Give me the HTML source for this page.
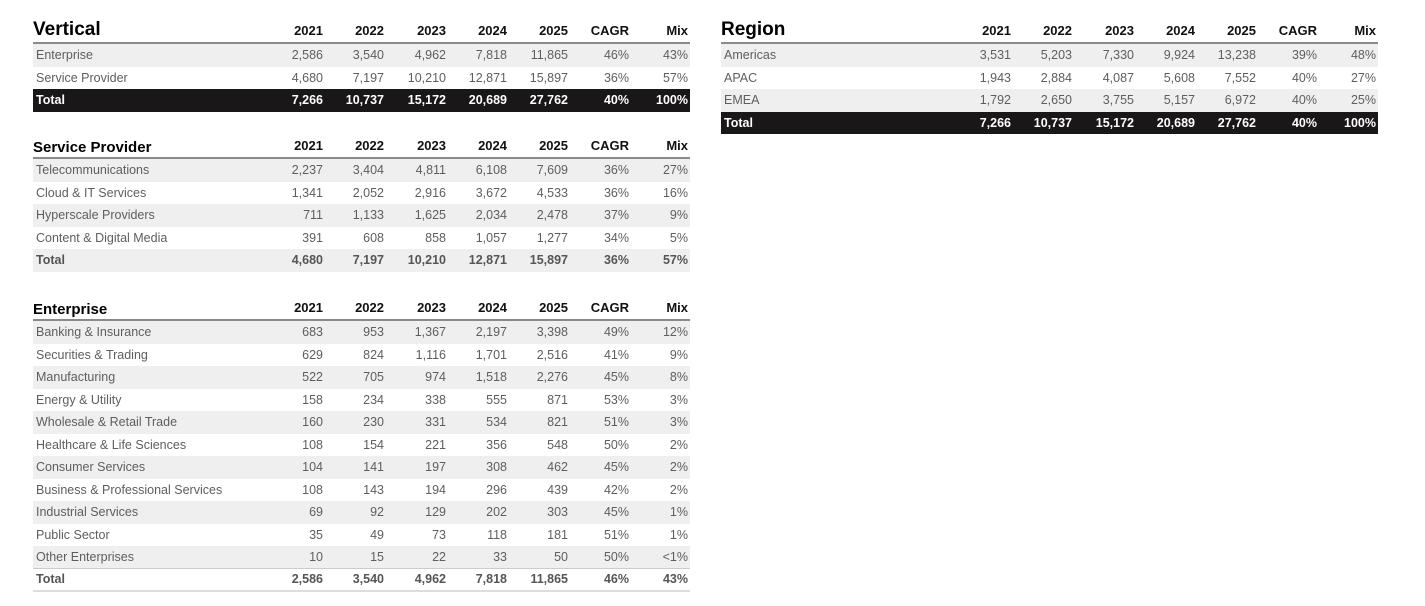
<!DOCTYPE html>
<html><head><style>
body{margin:0;background:#fff;width:1425px;height:606px;position:relative;font-family:"Liberation Sans",sans-serif;overflow:hidden}
.t{position:absolute;width:657px}
.h{height:24px;border-bottom:2px solid #8a8a8a;position:relative}
.h .ti{position:absolute;left:0;bottom:1px;font-weight:900;font-size:19px;color:#000}
.h.s .ti{font-size:15px}
.r{height:22.5px;position:relative;font-size:12.5px;color:#5e5e5e;box-sizing:border-box}
.r.g{background:#efefef}
.r.k{background:#1a1718;color:#fff;font-weight:bold}
.r.b{font-weight:bold;color:#555}
.r.bl{border-top:1px solid #ccc;border-bottom:2px solid #ddd;height:24px;margin-top:-1px}
.c{position:absolute;top:50%;transform:translateY(-50%);text-align:right;white-space:nowrap}
.l{left:3px;text-align:left}
.h .c{font-weight:bold;color:#111;font-size:13px;top:auto;bottom:4px;transform:none}
</style></head><body>
<div id="root"></div>
<script>
const R=[290,351,413,474,535,596,655];
function tbl(x,y,title,small,hdr,rows){
 let s=`<div class="t" style="left:${x}px;top:${y}px"><div class="h${small?' s':''}"><span class="ti">${title}</span>`;
 hdr.forEach((h,i)=>s+=`<span class="c" style="right:${657-R[i]}px">${h}</span>`);
 s+='</div>';
 rows.forEach(r=>{s+=`<div class="r ${r[0]}"><span class="c l">${r[1]}</span>`;
  r.slice(2).forEach((v,i)=>s+=`<span class="c" style="right:${657-R[i]}px">${v}</span>`);s+='</div>';});
 return s+'</div>';
}
const H=['2021','2022','2023','2024','2025','CAGR','Mix'];
let o='';
o+=tbl(33,18,'Vertical',0,H,[
['g','Enterprise','2,586','3,540','4,962','7,818','11,865','46%','43%'],
['','Service Provider','4,680','7,197','10,210','12,871','15,897','36%','57%'],
['k','Total','7,266','10,737','15,172','20,689','27,762','40%','100%']]);
o+=tbl(721,18,'Region',0,H,[
['g','Americas','3,531','5,203','7,330','9,924','13,238','39%','48%'],
['','APAC','1,943','2,884','4,087','5,608','7,552','40%','27%'],
['g','EMEA','1,792','2,650','3,755','5,157','6,972','40%','25%'],
['k','Total','7,266','10,737','15,172','20,689','27,762','40%','100%']]);
o+=tbl(33,133,'Service Provider',1,H,[
['g','Telecommunications','2,237','3,404','4,811','6,108','7,609','36%','27%'],
['','Cloud &amp; IT Services','1,341','2,052','2,916','3,672','4,533','36%','16%'],
['g','Hyperscale Providers','711','1,133','1,625','2,034','2,478','37%','9%'],
['','Content &amp; Digital Media','391','608','858','1,057','1,277','34%','5%'],
['g b','Total','4,680','7,197','10,210','12,871','15,897','36%','57%']]);
o+=tbl(33,295,'Enterprise',1,H,[
['g','Banking &amp; Insurance','683','953','1,367','2,197','3,398','49%','12%'],
['','Securities &amp; Trading','629','824','1,116','1,701','2,516','41%','9%'],
['g','Manufacturing','522','705','974','1,518','2,276','45%','8%'],
['','Energy &amp; Utility','158','234','338','555','871','53%','3%'],
['g','Wholesale &amp; Retail Trade','160','230','331','534','821','51%','3%'],
['','Healthcare &amp; Life Sciences','108','154','221','356','548','50%','2%'],
['g','Consumer Services','104','141','197','308','462','45%','2%'],
['','Business &amp; Professional Services','108','143','194','296','439','42%','2%'],
['g','Industrial Services','69','92','129','202','303','45%','1%'],
['','Public Sector','35','49','73','118','181','51%','1%'],
['g','Other Enterprises','10','15','22','33','50','50%','&lt;1%'],
['b bl','Total','2,586','3,540','4,962','7,818','11,865','46%','43%']]);
document.getElementById('root').innerHTML=o;
</script>
</body></html>
